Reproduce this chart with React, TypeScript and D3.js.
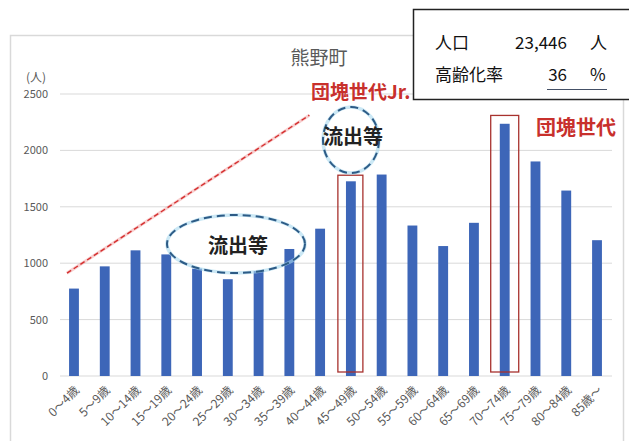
import React from "react";
import * as d3 from "d3";

// Age groups (5-year bands) and population counts for 熊野町
const categories: string[] = [
  "0～4歳", "5～9歳", "10～14歳", "15～19歳", "20～24歳", "25～29歳",
  "30～34歳", "35～39歳", "40～44歳", "45～49歳", "50～54歳", "55～59歳",
  "60～64歳", "65～69歳", "70～74歳", "75～79歳", "80～84歳", "85歳～",
];
const population: number[] = [
  775, 972, 1114, 1078, 952, 858, 930, 1126, 1306, 1726, 1786, 1334,
  1152, 1358, 2236, 1902, 1644, 1204,
];
const yTicks: number[] = [0, 500, 1000, 1500, 2000, 2500];

// Summary figures shown in the info box
const summaryRows: { label: string; value: string; unit: string }[] = [
  { label: "人口", value: "23,446", unit: "人" },
  { label: "高齢化率", value: "36", unit: "%" },
];

const W = 629;
const H = 441;
const FONT = "'Noto Sans CJK JP', 'Noto Sans', sans-serif";
const GRAY = "#595959";
const RED = "#c8302c";
const BLUE_DASH = "#2d5b86";

export default function App() {
  const x = d3
    .scaleBand<string>()
    .domain(categories)
    .range([58.6, 612.4])
    .paddingInner(0.68)
    .paddingOuter(0.34);
  const y = d3.scaleLinear().domain([0, 2500]).range([376, 94]);
  const cx = (c: string) => (x(c) ?? 0) + x.bandwidth() / 2;

  // highlighted generations
  const jrCat = "45～49歳";
  const boomCat = "70～74歳";

  return (
    <svg
      width={W}
      height={H}
      style={{ position: "absolute", left: 0, top: 0, background: "#fff" }}
      fontFamily={FONT}
    >
      <rect x={0} y={0} width={W} height={H} fill="#fff" />
      {/* chart area frame */}
      <rect x={10.5} y={35.5} width={613} height={430} fill="none" stroke="#d9d9d9" strokeWidth={1.5} />

      {/* title */}
      <text x={319} y={65} textAnchor="middle" fontSize={19} fill={GRAY}>
        熊野町
      </text>

      {/* unit label */}
      <text x={36} y={82} textAnchor="middle" fontSize={12} fill={GRAY}>
        (人)
      </text>

      {/* gridlines and y tick labels */}
      {yTicks.map((t) => (
        <g key={t}>
          <line x1={60} x2={612} y1={y(t)} y2={y(t)} stroke="#d9d9d9" strokeWidth={1} />
          <text x={48} y={y(t) + 4} textAnchor="end" fontSize={11} fill={GRAY}>
            {t}
          </text>
        </g>
      ))}

      {/* bars */}
      {categories.map((c, i) => (
        <rect
          key={c}
          x={x(c)}
          y={y(population[i])}
          width={x.bandwidth()}
          height={y(0) - y(population[i])}
          fill="#3d66b8"
        />
      ))}

      {/* x tick labels */}
      {categories.map((c) => (
        <text
          key={c}
          transform={`translate(${cx(c) + 6},${391}) rotate(-45)`}
          textAnchor="end"
          fontSize={12}
          fill={GRAY}
        >
          {c}
        </text>
      ))}

      {/* boxes marking the two generations */}
      <rect
        x={cx(jrCat) - 13}
        y={y(1780)}
        width={25}
        height={y(0) - y(1780) - 4}
        fill="none"
        stroke="#a8322e"
        strokeWidth={1.3}
      />
      <rect
        x={cx(boomCat) - 14}
        y={y(2310)}
        width={28}
        height={y(0) - y(2310) - 4}
        fill="none"
        stroke="#a8322e"
        strokeWidth={1.3}
      />

      {/* rising trend guide */}
      <line
        x1={cx(categories[0]) - 7}
        y1={y(912)}
        x2={cx("35～39歳") + 20}
        y2={y(2312)}
        stroke="#f2a0a0"
        strokeWidth={3}
        opacity={0.5}
      />
      <line
        x1={cx(categories[0]) - 7}
        y1={y(912)}
        x2={cx("35～39歳") + 20}
        y2={y(2312)}
        stroke="#d42f2f"
        strokeWidth={1.4}
        strokeDasharray="5 3"
      />

      {/* outflow markers */}
      <ellipse cx={236} cy={244} rx={69} ry={29} fill="none" stroke="#a8d8ee" strokeWidth={3.5} opacity={0.6} />
      <ellipse cx={236} cy={244} rx={69} ry={29} fill="none" stroke={BLUE_DASH} strokeWidth={2} strokeDasharray="8 5" />
      <text x={238} y={253} textAnchor="middle" fontSize={20} fontWeight={700} fill="#222">
        流出等
      </text>

      <ellipse cx={351} cy={140} rx={28} ry={33} fill="none" stroke="#a8d8ee" strokeWidth={3.5} opacity={0.6} />
      <ellipse cx={351} cy={140} rx={28} ry={33} fill="none" stroke={BLUE_DASH} strokeWidth={2} strokeDasharray="8 5" />
      <text x={353} y={144} textAnchor="middle" fontSize={20} fontWeight={700} fill="#222">
        流出等
      </text>

      {/* generation labels */}
      <text x={311} y={99} fontSize={19} fontWeight={700} fill={RED}>
        団塊世代Jr.
      </text>
      <text x={536} y={135} fontSize={20} fontWeight={700} fill={RED}>
        団塊世代
      </text>

      {/* info box */}
      <rect x={413.5} y={9.5} width={240} height={90} fill="#fff" stroke="#222" strokeWidth={1.5} />
      {summaryRows.map((r, i) => {
        const by = 49 + i * 32;
        return (
          <g key={r.label}>
            <text x={435} y={by} fontSize={17} fill="#111">
              {r.label}
            </text>
            <text x={567} y={by} textAnchor="end" fontSize={17} fill="#111">
              {r.value}
            </text>
            <text x={590} y={by} fontSize={17} fill="#111">
              {r.unit}
            </text>
          </g>
        );
      })}
      <line x1={547} x2={607} y1={89.5} y2={89.5} stroke="#445066" strokeWidth={1} />
    </svg>
  );
}
